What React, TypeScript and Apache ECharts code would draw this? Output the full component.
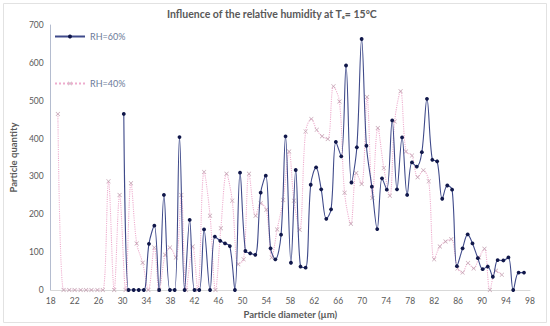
import React, { useEffect, useRef } from "react";
import * as echarts from "echarts";

const xTicks = [18, 22, 26, 30, 34, 38, 42, 46, 50, 54, 58, 62, 66, 70, 74, 78, 82, 86, 90, 94, 98];
const yTicks = [0, 100, 200, 300, 400, 500, 600, 700];

const rh60X = [30.2,31.0,31.85,32.7,33.55,34.4,35.3,36.1,36.9,37.9,38.7,39.5,40.35,41.2,42.0,42.8,43.6,44.6,45.4,46.3,47.1,47.9,48.75,49.6,50.5,51.3,52.15,53.05,53.9,54.7,55.5,56.45,57.2,58.1,58.9,59.7,60.55,61.4,62.3,63.15,64.0,64.8,65.6,66.5,67.3,68.2,69.1,69.9,70.7,71.6,72.5,73.3,74.1,75.0,75.8,76.65,77.5,78.3,79.1,79.95,80.8,81.7,82.5,83.35,84.2,85.0,85.8,86.75,87.6,88.4,89.3,90.1,90.95,91.8,92.6,93.55,94.4,95.2,96.1,97.0];
const rh60Y = [465,0,0,0,0,122,170,0,251,0,0,404,0,185,0,0,160,0,141,130,123,116,0,310,103,97,93,257,302,110,81,146,406,72,317,62,59,278,324,266,188,213,391,353,593,284,377,663,381,273,161,295,265,448,266,403,251,337,326,364,505,344,340,241,276,265,63,110,147,123,84,55,62,35,79,78,86,0,46,46];

const rh40X = [19.2,20.15,21.1,22.0,23.0,23.9,24.8,25.8,26.7,27.65,28.6,29.5,30.5,31.4,32.35,33.35,34.3,35.3,36.1,37.1,37.9,38.9,39.8,40.6,41.7,42.55,43.6,44.6,45.5,46.4,47.35,48.3,49.3,50.2,51.1,52.2,53.05,54.0,54.9,55.8,56.8,57.8,58.6,59.55,60.55,61.5,62.4,63.3,64.25,65.2,66.2,67.05,68.1,69.0,69.9,70.8,71.7,72.6,73.6,74.6,75.4,76.4,77.3,78.3,79.25,80.2,81.1,82.0,82.95,83.9,84.85,85.9,86.75,87.65,88.6,89.5,90.4,91.3,92.3,93.3];
const rh40Y = [465,0,0,0,0,0,0,0,0,287,0,251,0,282,123,72,0,112,0,93,112,86,251,0,115,0,312,196,0,163,307,236,68,81,307,196,229,212,86,160,238,366,236,159,419,452,423,406,399,538,498,257,175,309,280,510,243,428,322,249,445,525,366,355,298,316,287,81,115,128,134,57,46,71,57,86,109,0,51,40];

const seriesNames = ["RH=60%", "RH=40%"];
const titleText = "Influence of the relative humidity at Tₑ= 15ºC";
const xName = "Particle diameter (µm)";
const yName = "Particle quantity";

const FONT = "Lato";
const crossPath = "path://M0,1L1,0L5,4L9,0L10,1L6,5L10,9L9,10L5,6L1,10L0,9L4,5Z";

export default function App() {
  const ref = useRef<HTMLDivElement>(null);
  useEffect(() => {
    document.body.style.margin = "0";
    if (!ref.current) return;
    const chart = echarts.init(ref.current, undefined, { renderer: "svg" });
    const pair = (xs: number[], ys: number[]) => xs.map((x, i) => [x, ys[i]]);
    chart.setOption({
      animation: false,
      backgroundColor: "#ffffff",
      title: {
        text: titleText,
        left: 162,
        top: 3,
        textStyle: { fontFamily: FONT, fontSize: 10.5, fontWeight: "bold", color: "#595959" },
      },
      legend: {
        data: seriesNames,
        orient: "vertical",
        left: 49,
        top: 27,
        itemGap: 38,
        itemWidth: 30,
        itemHeight: 5,
        textStyle: { fontFamily: FONT, fontSize: 9, color: "#6b7a99" },
      },
      grid: { left: 46, right: 20, top: 25, bottom: 36, containLabel: false },
      xAxis: {
        type: "value",
        min: 18,
        max: 98,
        interval: 4,
        name: xName,
        nameLocation: "middle",
        nameGap: 16,
        nameTextStyle: { fontFamily: FONT, fontSize: 9.5, fontWeight: "bold", color: "#595959" },
        axisLine: { show: true, lineStyle: { color: "#d9d9d9" } },
        axisTick: { show: false },
        splitLine: { show: false },
        axisLabel: { fontFamily: FONT, fontSize: 8.5, color: "#595959", margin: 6 },
      },
      yAxis: {
        type: "value",
        min: 0,
        max: 700,
        interval: 100,
        name: yName,
        nameLocation: "middle",
        nameGap: 30,
        nameTextStyle: { fontFamily: FONT, fontSize: 9.5, fontWeight: "bold", color: "#595959" },
        axisLine: { show: true, lineStyle: { color: "#b4bccf" } },
        axisTick: { show: false },
        splitLine: { show: false },
        axisLabel: { fontFamily: FONT, fontSize: 8.5, color: "#595959", margin: 7 },
      },
      graphic: [
        {
          type: "rect",
          shape: { x: 3.5, y: 3.5, width: 543, height: 319 },
          style: { fill: "none", stroke: "#e2e2e2", lineWidth: 1 },
          silent: true,
        },
      ],
      series: [
        {
          name: seriesNames[1],
          type: "line",
          data: pair(rh40X, rh40Y),
          smooth: 0.35,
          symbol: crossPath,
          symbolSize: 4.5,
          showAllSymbol: true,
          lineStyle: { color: "#eeaccd", width: 1.1, type: "dotted" },
          itemStyle: { color: "#c4a3b3" },
          z: 2,
        },
        {
          name: seriesNames[0],
          type: "line",
          data: pair(rh60X, rh60Y),
          smooth: 0.35,
          symbol: "circle",
          symbolSize: 3.8,
          showAllSymbol: true,
          lineStyle: { color: "#3f4a8a", width: 1.1 },
          itemStyle: { color: "#10174a" },
          z: 3,
        },
      ],
    });
    return () => chart.dispose();
  }, []);
  return <div ref={ref} style={{ width: 550, height: 326 }} />;
}
